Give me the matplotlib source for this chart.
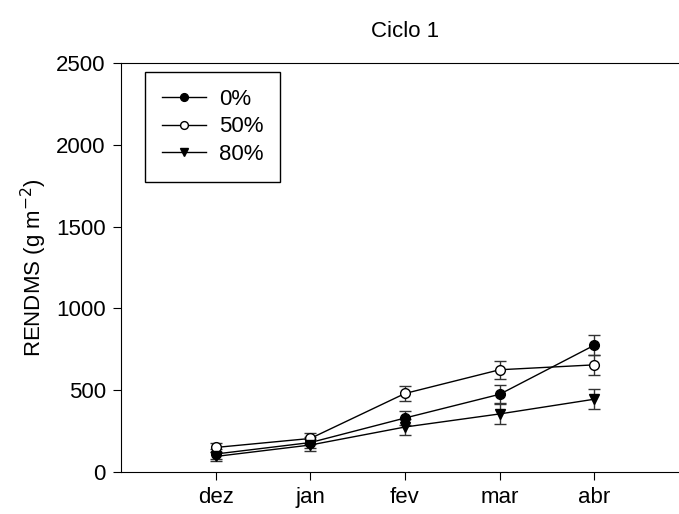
import matplotlib
matplotlib.use("Agg")
from matplotlib import pyplot as plt

plt.rcParams["font.family"] = ["Liberation Sans", "DejaVu Sans"]

months = ["dez", "jan", "fev", "mar", "abr"]
xpos = [1, 2, 3, 4, 5]

rend_0 = [110, 180, 330, 475, 775]
err_0 = [30, 35, 45, 55, 60]
rend_50 = [150, 205, 480, 625, 655]
err_50 = [25, 35, 48, 55, 60]
rend_80 = [95, 165, 275, 355, 445]
err_80 = [25, 35, 50, 60, 60]

fig = plt.figure(figsize=(6.79, 5.14), dpi=100)
ax = fig.add_axes([0.1782, 0.0817, 0.8365, 0.7957])

common = dict(color="black", ecolor="#333333", lw=1, ms=7, capsize=4.5, capthick=1, elinewidth=1)
ax.errorbar(xpos, rend_0, yerr=err_0, fmt="-o", mfc="black", mec="black", label="0%", **common)
ax.errorbar(xpos, rend_50, yerr=err_50, fmt="-o", mfc="white", mec="black", label="50%", **common)
ax.errorbar(xpos, rend_80, yerr=err_80, fmt="-v", mfc="black", mec="black", label="80%", **common)

ax.set_xlim(0, 6)
ax.set_ylim(0, 2500)
ax.set_xticks(xpos)
ax.set_xticklabels(months)
ax.set_yticks([0, 500, 1000, 1500, 2000, 2500])
ax.tick_params(labelsize=16, length=6, direction="out", pad=5)
ax.spines["right"].set_visible(False)

ax.set_ylabel("RENDMS (g m$^{-2}$)", fontsize=16, labelpad=5)
ax.set_title("Ciclo 1", fontsize=16, pad=19)

handles, labels = ax.get_legend_handles_labels()
handles = [h[0] for h in handles]
leg = ax.legend(handles, labels, loc="upper left", bbox_to_anchor=(0.042, 0.978),
                fontsize=16, fancybox=False, edgecolor="black", framealpha=1,
                handlelength=2.0, handletextpad=0.6, markerscale=0.8,
                borderpad=0.75, labelspacing=0.3, borderaxespad=0)
leg.get_frame().set_linewidth(1)

fig.savefig("out.png", dpi=100)
